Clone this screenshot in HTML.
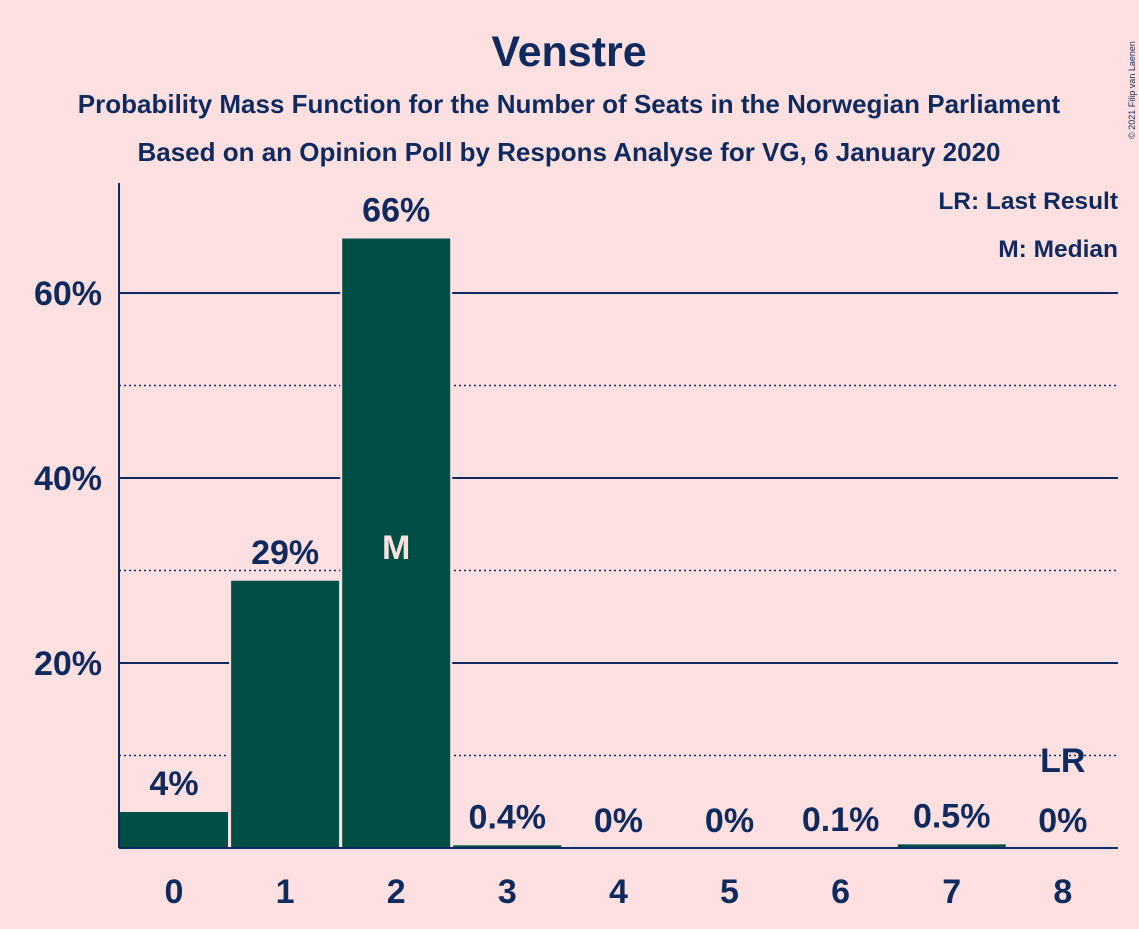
<!DOCTYPE html>
<html><head><meta charset="utf-8"><style>
html,body{margin:0;padding:0;background:#FFE0E0;}
svg text{font-family:"Liberation Sans",sans-serif;font-weight:bold;fill:#0f2a5e;}
</style></head><body>
<svg id="chart" width="1139" height="924" viewBox="0 0 1139 924" xmlns="http://www.w3.org/2000/svg">
<rect width="1139" height="924" fill="#FFE0E0"/>
<text x="569" y="66" text-anchor="middle" font-size="43">Venstre</text>
<text x="569" y="113" text-anchor="middle" font-size="26">Probability Mass Function for the Number of Seats in the Norwegian Parliament</text>
<text x="569" y="161" text-anchor="middle" font-size="26">Based on an Opinion Poll by Respons Analyse for VG, 6 January 2020</text>
<text x="1118" y="209" text-anchor="end" font-size="24.5">LR: Last Result</text>
<text x="1118" y="257" text-anchor="end" font-size="24.5">M: Median</text>
<text transform="translate(1135,90) rotate(-90)" text-anchor="middle" font-size="9" style="font-weight:normal">© 2021 Filip van Laenen</text>
<g id="grid"></g>
<g id="bars"></g>
<g id="labels"></g>
<line x1="119" y1="183" x2="119" y2="848" stroke="#0f2a5e" stroke-width="2"/>
<line x1="119" y1="848" x2="1118" y2="848" stroke="#0f2a5e" stroke-width="2"/>
</svg>
<script>
const categories = [0,1,2,3,4,5,6,7,8];
const values = [4,29,66,0.4,0,0,0.1,0.5,0];
const valueLabels = ["4%","29%","66%","0.4%","0%","0%","0.1%","0.5%","0%"];
const yTicks = [20,40,60];
const yMinor = [10,30,50];
const medianIndex = 2;
const lastResultIndex = 8;

const NS="http://www.w3.org/2000/svg";
const x0=119, x1=1118, yBase=848, pxPerPct=9.25, step=111.1;
const yScale=v=>yBase-v*pxPerPct;
const xCenter=i=>174+i*step;
function mk(tag,attrs,parent){const e=document.createElementNS(NS,tag);for(const k in attrs)e.setAttribute(k,attrs[k]);parent.appendChild(e);return e;}
const grid=document.getElementById('grid'),bars=document.getElementById('bars'),labels=document.getElementById('labels');
yMinor.forEach(v=>{const l=mk('line',{x1:x0,x2:x1,y1:yScale(v),y2:yScale(v),stroke:'#0f2a5e','stroke-width':1.5,'stroke-dasharray':'2,3'},grid);

});
yTicks.forEach(v=>{const l=mk('line',{x1:x0,x2:x1,y1:yScale(v),y2:yScale(v),stroke:'#0f2a5e','stroke-width':2},grid);


const t=mk('text',{x:102,y:yScale(v)+12,'text-anchor':'end','font-size':34},grid);t.textContent=v+'%';

});
categories.forEach((c,i)=>{const cx=xCenter(i),w=110;const h=values[i]*pxPerPct;
if(values[i]>0){const r=mk('rect',{x:cx-w/2,y:yScale(values[i]),width:w,height:h,fill:'#004f46',stroke:'#FFE0E0','stroke-width':2},bars);

}
const t=mk('text',{x:cx,y:yScale(values[i])-16,'text-anchor':'middle','font-size':34},labels);t.textContent=valueLabels[i];


const xt=mk('text',{x:cx,y:903,'text-anchor':'middle','font-size':34},labels);xt.textContent=c;

});
const m=mk('text',{x:xCenter(medianIndex),y:559,'text-anchor':'middle','font-size':34,style:'fill:#FFE0E0'},labels);m.textContent='M';


const lr=mk('text',{x:xCenter(lastResultIndex),y:772,'text-anchor':'middle','font-size':34},labels);lr.textContent='LR';


</script>
</body></html>
